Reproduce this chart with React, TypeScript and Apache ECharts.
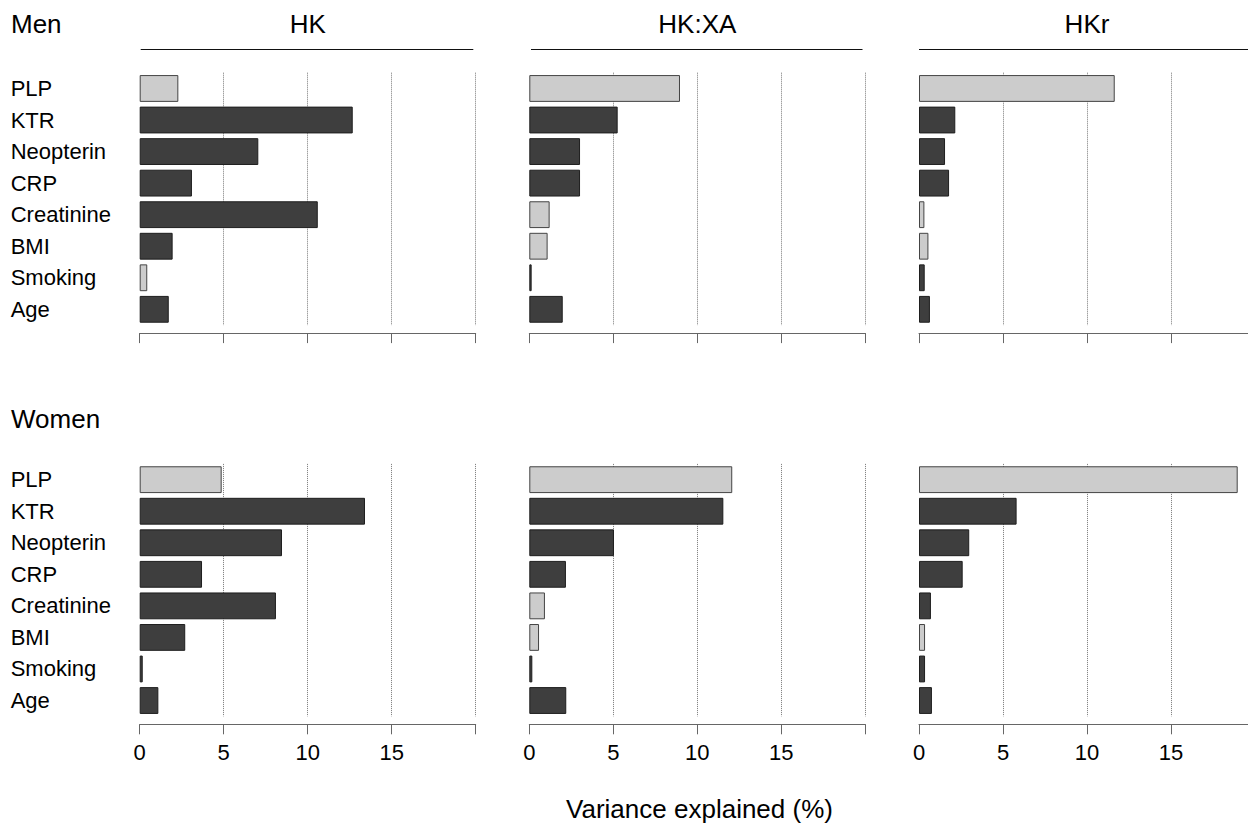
import React, { useEffect, useRef } from 'react';
import * as echarts from 'echarts';

const categories = ['PLP', 'KTR', 'Neopterin', 'CRP', 'Creatinine', 'BMI', 'Smoking', 'Age'];
const panelTitles = ['HK', 'HK:XA', 'HKr'];
const groupTitles = ['Men', 'Women'];

const menHK = [2.3, 12.68, 7.06, 3.11, 10.6, 1.96, 0.45, 1.73];
const menHKShade = ['L', 'D', 'D', 'D', 'D', 'D', 'L', 'D'];
const menHKXA = [8.97, 5.26, 3.02, 3.02, 1.21, 1.09, 0.14, 1.99];
const menHKXAShade = ['L', 'D', 'D', 'D', 'L', 'L', 'D', 'D'];
const menHKr = [11.65, 2.16, 1.55, 1.79, 0.32, 0.56, 0.34, 0.65];
const menHKrShade = ['L', 'D', 'D', 'D', 'L', 'L', 'D', 'D'];

const womenHK = [4.88, 13.41, 8.47, 3.71, 8.11, 2.71, 0.18, 1.11];
const womenHKShade = ['L', 'D', 'D', 'D', 'D', 'D', 'D', 'D'];
const womenHKXA = [12.08, 11.55, 5.04, 2.18, 0.93, 0.58, 0.18, 2.2];
const womenHKXAShade = ['L', 'D', 'D', 'D', 'L', 'L', 'D', 'D'];
const womenHKr = [18.97, 5.81, 2.99, 2.6, 0.71, 0.36, 0.36, 0.77];
const womenHKrShade = ['L', 'D', 'D', 'D', 'D', 'L', 'D', 'D'];

const xMin = 0;
const xMax = 20;
const xInterval = 5;
const xLabelHidden = [20];
const xAxisTitle = 'Variance explained (%)';

const FONT = '"Liberation Sans", Arial, Helvetica, sans-serif';

export default function App() {
  const ref = useRef<HTMLDivElement>(null);

  useEffect(() => {
    if (!ref.current) return;
    const chart = echarts.init(ref.current, undefined, { renderer: 'svg' });

    const values = [
      [menHK, menHKXA, menHKr],
      [womenHK, womenHKXA, womenHKr],
    ];
    const shades = [
      [menHKShade, menHKXAShade, menHKrShade],
      [womenHKShade, womenHKXAShade, womenHKrShade],
    ];

    const colLeft = [139.7, 529.3, 919];
    const gridW = 336;
    const rowTop = [72.7, 463.9];
    const gridH = 252.4;

    const grids: any[] = [];
    const xAxes: any[] = [];
    const yAxes: any[] = [];
    const series: any[] = [];

    for (let r = 0; r < 2; r++) {
      for (let c = 0; c < 3; c++) {
        const idx = r * 3 + c;
        grids.push({ left: colLeft[c], top: rowTop[r], width: gridW, height: gridH, containLabel: false });
        xAxes.push({
          type: 'value',
          gridIndex: idx,
          min: xMin,
          max: xMax,
          interval: xInterval,
          position: 'bottom',
          offset: 8,
          axisLine: { show: true, onZero: false, lineStyle: { color: '#666', width: 1 } },
          axisTick: { show: true, length: 10, inside: false, lineStyle: { color: '#666', width: 1 } },
          axisLabel: {
            show: r === 1,
            margin: 17,
            fontSize: 22,
            color: '#000',
            fontFamily: FONT,
            formatter: (v: number) => (xLabelHidden.includes(v) ? '' : String(v)),
          },
          splitLine: {
            show: true,
            showMinLine: false,
            showMaxLine: true,
            lineStyle: { type: 'dotted', color: '#777', width: 1 },
          },
        });
        yAxes.push({
          type: 'category',
          gridIndex: idx,
          data: categories,
          inverse: true,
          axisLine: { show: false },
          axisTick: { show: false },
          splitLine: { show: false },
          axisLabel: {
            show: c === 0,
            align: 'left',
            margin: 129,
            fontSize: 22,
            color: '#000',
            fontFamily: FONT,
          },
        });
        const vals = values[r][c];
        const sh = shades[r][c];
        series.push({
          type: 'bar',
          xAxisIndex: idx,
          yAxisIndex: idx,
          barCategoryGap: '15%',
          itemStyle: { borderColor: '#222', borderWidth: 1 },
          data: vals.map((v, i) => ({
            value: v,
            itemStyle: { color: sh[i] === 'L' ? '#cccccc' : '#3e3e3e', borderColor: sh[i] === 'L' ? '#444' : '#1e1e1e' },
          })),
        });
      }
    }

    const graphic: any[] = [];
    const titleY = 23.7;
    const groupY = [23.7, 419];
    groupTitles.forEach((t, r) => {
      graphic.push({
        type: 'text',
        x: 11,
        y: groupY[r],
        style: { text: t, fontSize: 26, fontFamily: FONT, fill: '#000', align: 'left', verticalAlign: 'middle' },
      });
    });
    panelTitles.forEach((t, c) => {
      graphic.push({
        type: 'text',
        x: colLeft[c] + gridW / 2,
        y: titleY,
        style: { text: t, fontSize: 26, fontFamily: FONT, fill: '#000', align: 'center', verticalAlign: 'middle' },
      });
    });
    const lineSpans = [
      [140.7, 473.3],
      [531, 862.5],
      [919, 1260],
    ];
    lineSpans.forEach(([x1, x2]) => {
      graphic.push({
        type: 'line',
        shape: { x1, y1: 49.5, x2, y2: 49.5 },
        style: { stroke: '#111', lineWidth: 1.2 },
      });
    });
    graphic.push({
      type: 'text',
      x: 699.5,
      y: 809,
      style: { text: xAxisTitle, fontSize: 26, fontFamily: FONT, fill: '#000', align: 'center', verticalAlign: 'middle' },
    });

    chart.setOption({
      animation: false,
      backgroundColor: '#fff',
      textStyle: { fontFamily: FONT },
      grid: grids,
      xAxis: xAxes,
      yAxis: yAxes,
      series,
      graphic,
    });

    return () => chart.dispose();
  }, []);

  return (
    <div
      style={{ position: 'fixed', left: 0, top: 0, width: 1248, height: 823, overflow: 'hidden', background: '#fff' }}
    >
      <div ref={ref} style={{ position: 'absolute', left: 0, top: 0, width: 1270, height: 823 }} />
    </div>
  );
}
